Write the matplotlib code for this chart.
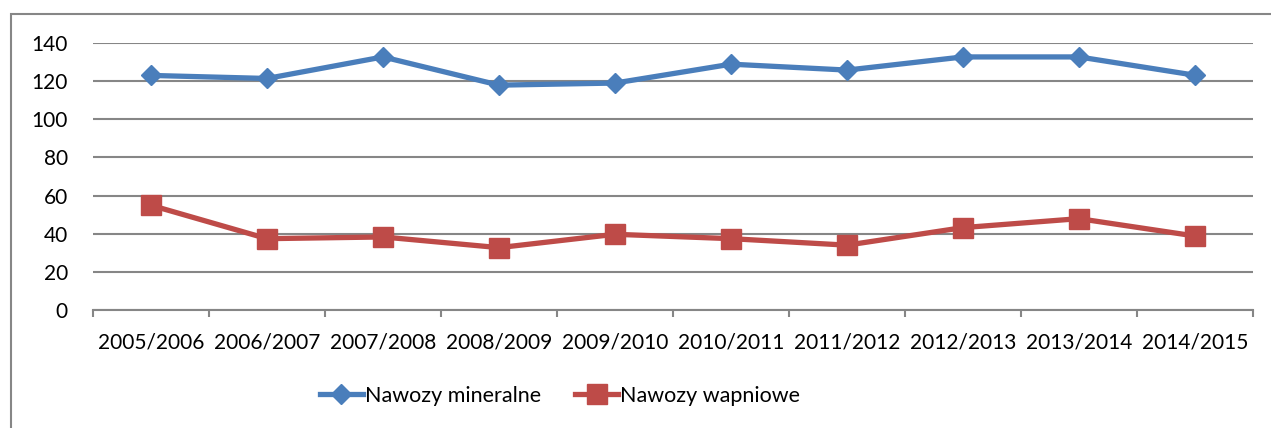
import matplotlib.pyplot as plt
from matplotlib.patches import Rectangle
from matplotlib.lines import Line2D

plt.rcParams['font.family'] = ['Lato', 'DejaVu Sans']

# data
seasons = ['2005/2006', '2006/2007', '2007/2008', '2008/2009', '2009/2010',
           '2010/2011', '2011/2012', '2012/2013', '2013/2014', '2014/2015']
mineralne = [123.0, 121.4, 132.7, 117.9, 119.0, 128.9, 125.8, 132.7, 132.7, 123.1]
wapniowe = [54.9, 37.4, 38.3, 32.7, 39.7, 37.4, 34.0, 43.2, 47.9, 38.8]

blue = '#4A7EBB'
red = '#BE4B48'
grid_c = '#868686'

fig = plt.figure(figsize=(12.71, 4.28), dpi=100)
ax = fig.add_axes([93/1271, 1 - 310/428, (1253 - 93)/1271, (310 - 43)/428])

x = list(range(len(seasons)))
ax.plot(x, mineralne, color=blue, lw=3.8, marker='D', ms=10, label='Nawozy mineralne')
ax.plot(x, wapniowe, color=red, lw=3.8, marker='s', ms=14.5, label='Nawozy wapniowe')

ax.set_xlim(-0.5, len(seasons) - 0.5)
ax.set_ylim(0, 140)
ax.set_yticks(range(0, 141, 20))
ax.set_xticks(x)
ax.set_xticklabels(seasons)
ax.set_xticks([i - 0.5 for i in range(len(seasons) + 1)], minor=True)

ax.yaxis.grid(True, color=grid_c, lw=1.5)
ax.set_axisbelow(True)
for s in ['left', 'right', 'top']:
    ax.spines[s].set_visible(False)
ax.spines['bottom'].set_color(grid_c)
ax.spines['bottom'].set_linewidth(1.5)

ax.tick_params(axis='y', length=0, pad=18, labelsize=15)
ax.tick_params(axis='x', which='major', length=0, pad=16, labelsize=15)
ax.tick_params(axis='x', which='minor', length=5, width=1.5, color=grid_c, direction='out')

# outer chart border (only left/top visible in the crop)
fig.patches.append(Rectangle((11/1271, -0.1), 1.2, 1.1 - 14/428,
                             transform=fig.transFigure, fill=False,
                             edgecolor=grid_c, lw=1.5))

handles = [Line2D([], [], color=blue, lw=3.8, marker='D', ms=10),
           Line2D([], [], color=red, lw=3.8, marker='s', ms=14.5)]
fig.legend(handles, ['Nawozy mineralne', 'Nawozy wapniowe'], loc='center',
           bbox_to_anchor=(560/1271, 1 - 396/428), ncol=2, frameon=False,
           fontsize=15.5, handlelength=2.0, handletextpad=0.1, columnspacing=1.6)

fig.savefig('out.png', dpi=100)
